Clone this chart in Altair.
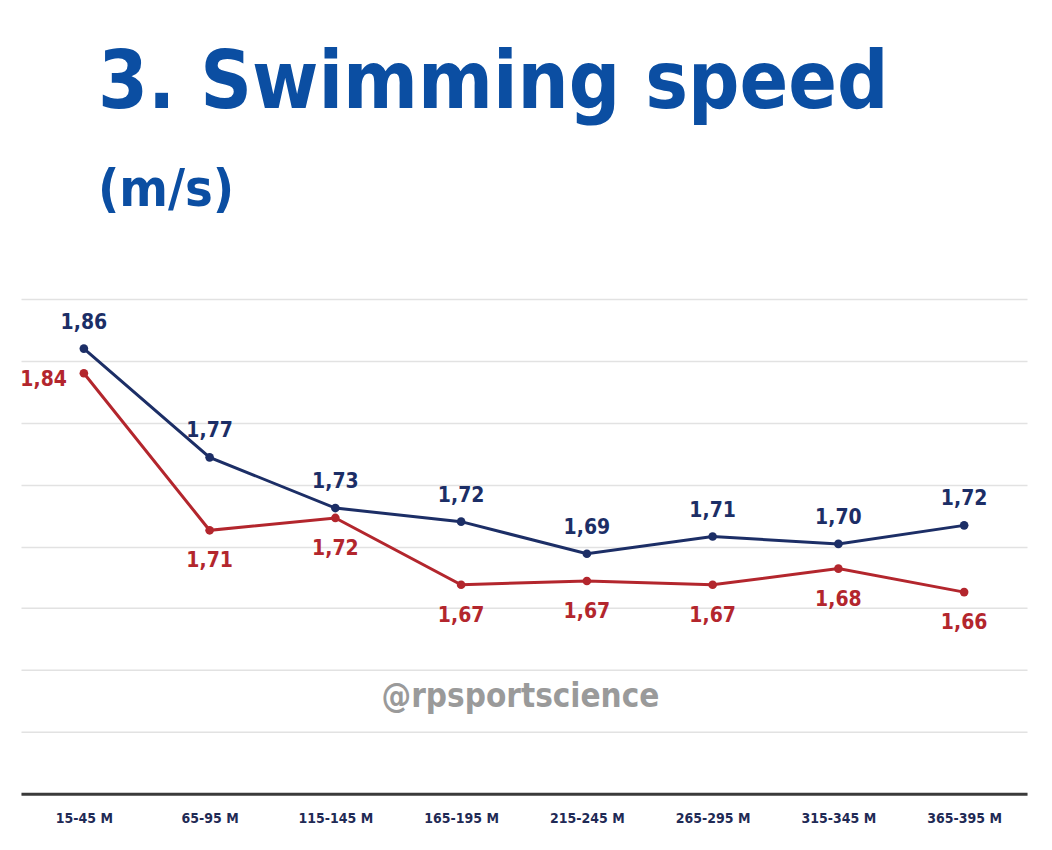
import altair as alt
import pandas as pd

categories = ["15-45 M", "65-95 M", "115-145 M", "165-195 M",
              "215-245 M", "265-295 M", "315-345 M", "365-395 M"]
blue_values = [1.860, 1.772, 1.731, 1.720, 1.694, 1.708, 1.702, 1.717]
blue_labels = ["1,86", "1,77", "1,73", "1,72", "1,69", "1,71", "1,70", "1,72"]
red_values = [1.840, 1.713, 1.723, 1.669, 1.672, 1.669, 1.682, 1.663]
red_labels = ["1,84", "1,71", "1,72", "1,67", "1,67", "1,67", "1,68", "1,66"]
y_ticks = [1.50, 1.55, 1.60, 1.65, 1.70, 1.75, 1.80, 1.85, 1.90]

NAVY = "#1c2e66"
RED = "#b3262d"
TITLE_BLUE = "#0b4ea2"
FONT = "'DejaVu Sans Condensed', 'Liberation Sans Narrow', 'Roboto Condensed', sans-serif"

rows = []
for i, c in enumerate(categories):
    rows.append({"cat": c, "value": blue_values[i], "label": blue_labels[i],
                 "series": "blue", "pos": "above"})
for i, c in enumerate(categories):
    rows.append({"cat": c, "value": red_values[i], "label": red_labels[i],
                 "series": "red", "pos": "left" if i == 0 else "below"})
df = pd.DataFrame(rows)

x_enc = alt.X("cat:N", sort=categories, title=None,
              scale=alt.Scale(type="point", padding=0.5),
              axis=alt.Axis(labelAngle=0, ticks=False, labelPadding=18,
                            labelFont=FONT, labelFontSize=14, labelFontWeight="bold",
                            labelColor="#1f2a55", domainColor="#3a3a3a",
                            domainWidth=3, grid=False))
y_enc = alt.Y("value:Q", title=None,
              scale=alt.Scale(domain=[1.5, 1.9], nice=False, zero=False),
              axis=alt.Axis(values=y_ticks, labels=False, ticks=False, domain=False,
                            grid=True, gridColor="#e2e2e2", gridWidth=1.5))
color_enc = alt.Color("series:N", legend=None,
                      scale=alt.Scale(domain=["blue", "red"], range=[NAVY, RED]))

base = alt.Chart(df).encode(x=x_enc, y=y_enc, color=color_enc)

lines = base.mark_line(strokeWidth=3)
points = base.mark_circle(size=75, opacity=1)

lab_above = base.transform_filter(alt.datum.pos == "above").mark_text(
    dy=-26, font=FONT, fontSize=21, fontWeight="bold").encode(text="label:N")
lab_below = base.transform_filter(alt.datum.pos == "below").mark_text(
    dy=31, font=FONT, fontSize=21, fontWeight="bold").encode(text="label:N")
lab_left = base.transform_filter(alt.datum.pos == "left").mark_text(
    dx=-17, dy=7, align="right", font=FONT, fontSize=21, fontWeight="bold").encode(text="label:N")

watermark = alt.Chart(pd.DataFrame({"t": ["@rpsportscience"]})).mark_text(
    font=FONT, fontSize=33, fontWeight="bold", color="#9a9a9a"
).encode(x=alt.value(500), y=alt.value(398), text="t:N")

chart = alt.layer(lines, points, lab_above, lab_below, lab_left, watermark).properties(
    width=1007, height=495,
    background="white",
    padding={"left": 12, "top": 36, "right": 17, "bottom": 5},
    title=alt.TitleParams(
        text="3. Swimming speed", subtitle="(m/s)",
        anchor="start", frame="group", dx=77,
        font=FONT, fontSize=80, fontWeight="bold", color=TITLE_BLUE,
        subtitleFont=FONT, subtitleFontSize=52, subtitleFontWeight="bold",
        subtitleColor=TITLE_BLUE, subtitlePadding=40, offset=82,
    ),
).configure_view(stroke=None)

chart.save("out.html", embed_options={"renderer": "svg", "actions": False})
